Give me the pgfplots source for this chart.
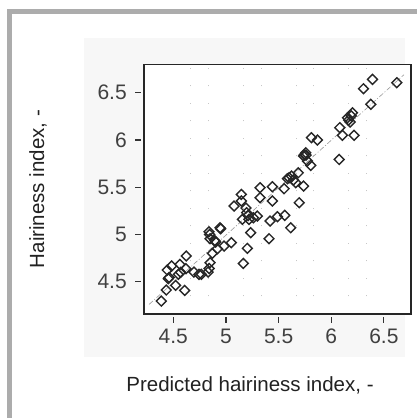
\documentclass[border=0pt]{standalone}
\usepackage{fontspec}
\setmainfont{Liberation Sans}
\usepackage{pgfplots}
\pgfplotsset{compat=1.18}
\definecolor{framegray}{HTML}{ACACAC}
\definecolor{panelgray}{HTML}{F7F7F7}
\definecolor{txt}{HTML}{222222}

\pgfplotstableread{
x y
4.386 4.295
4.433 4.412
4.443 4.623
4.452 4.532
4.460 4.545
4.484 4.666
4.522 4.461
4.548 4.578
4.563 4.683
4.570 4.600
4.608 4.408
4.620 4.638
4.623 4.772
4.696 4.602
4.744 4.578
4.766 4.578
4.830 4.602
4.840 4.640
4.849 4.701
4.839 5.029
4.845 5.000
4.849 4.955
4.871 4.800
4.902 4.920
4.895 4.935
4.918 4.849
4.944 5.071
4.950 5.060
4.982 4.877
5.051 4.913
5.077 5.301
5.146 5.424
5.146 5.354
5.156 5.160
5.165 4.694
5.203 4.853
5.197 5.230
5.190 5.280
5.219 5.160
5.210 5.200
5.235 5.019
5.260 5.177
5.298 5.195
5.324 5.495
5.324 5.389
5.409 4.955
5.419 5.142
5.441 5.354
5.441 5.505
5.489 5.188
5.558 5.202
5.552 5.484
5.615 5.071
5.584 5.590
5.600 5.600
5.622 5.618
5.641 5.576
5.663 5.548
5.687 5.653
5.696 5.336
5.737 5.512
5.737 5.830
5.745 5.845
5.758 5.865
5.760 5.840
5.774 5.777
5.805 5.731
5.812 6.024
5.869 5.999
6.075 5.794
6.081 6.130
6.106 6.049
6.154 6.235
6.165 6.210
6.179 6.190
6.190 6.255
6.202 6.288
6.217 6.049
6.306 6.542
6.392 6.641
6.376 6.377
6.623 6.606
}\pts

\begin{document}
\begin{tikzpicture}[x=1pt,y=1pt]
\useasboundingbox (0,0) rectangle (417,418);
% outer frame
\fill[framegray] (7,0) rectangle (417,409);
\fill[white] (12,0) rectangle (417,404);
% plot panel
\fill[panelgray] (84,61) rectangle (405,380);
\begin{axis}[
  at={(137,110.3)}, anchor=south west,
  scale only axis, width=266.7pt, height=249.4pt,
  xmin=4.224, xmax=6.757, ymin=4.161, ymax=6.80,
  axis background/.style={fill=white},
  axis line style={draw=none},
  xtick={4.5,5,5.5,6,6.5}, ytick={4.5,5,5.5,6,6.5},
  xticklabels={4.5,5,5.5,6,6.5}, yticklabels={4.5,5,5.5,6,6.5},
  xtick pos=bottom, ytick pos=left,
  tick align=outside, major tick length=6pt,
  tick style={black!80, line width=1.1pt},
  every major x tick/.append style={yshift=-3pt},
  every major y tick/.append style={xshift=-3pt},
  minor x tick num=2, minor y tick num=0, minor tick length=0pt,
  minor x grid style={black!22, line width=0.8pt, dash pattern=on 0.8pt off 16.7pt},
  xminorgrids,
  ticklabel style={font=\fontsize{21}{22}\selectfont, text=black!75},
  xticklabel style={yshift=-6pt},
  yticklabel style={xshift=-8pt},
  clip=false,
]
\addplot[black!40, line width=0.6pt, dash pattern=on 5pt off 2pt on 1pt off 2pt] coordinates {(4.27,4.26) (6.69,6.69)};
\addplot[only marks, mark=square, mark size=3.5pt, black!85, line width=1.4pt,
  every mark/.append style={rotate=45}] table[x=x, y=y] {\pts};
\draw[black!85, line width=1.6pt] (rel axis cs:0,0) rectangle (rel axis cs:1,1);
\end{axis}
\node[text=txt, font=\fontsize{20.5}{22}\selectfont] at (250,33) {Predicted hairiness index, -};
\node[text=txt, font=\fontsize{20.5}{22}\selectfont, rotate=90] at (38,229) {Hairiness index, -};
\end{tikzpicture}
\end{document}
